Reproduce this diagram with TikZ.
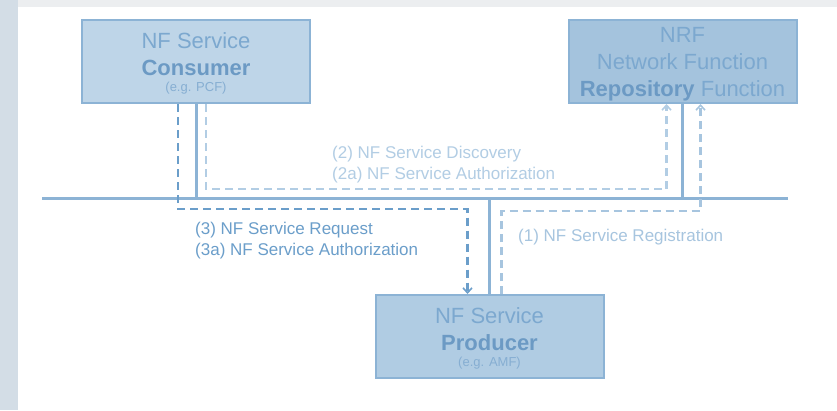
\documentclass[tikz,border=0pt]{standalone}
\usepackage{fontspec}
\setmainfont{Liberation Sans}
\usetikzlibrary{arrows.meta}
\definecolor{boxline}{HTML}{8CB3D5}
\definecolor{consfill}{HTML}{BED5E8}
\definecolor{nrffill}{HTML}{A4C3DD}
\definecolor{prodfill}{HTML}{B0CCE3}
\definecolor{boxtext}{HTML}{7CA8CF}
\definecolor{boldtext}{HTML}{6C9AC4}
\definecolor{smalltext}{HTML}{86AED2}
\definecolor{reqcol}{HTML}{6B9ECA}
\definecolor{disccol}{HTML}{B2CDE4}
\definecolor{regcol}{HTML}{A7C5DF}
\definecolor{leftbg}{HTML}{D3DDE6}
\definecolor{topbg}{HTML}{ECEEF0}
\tikzset{
  nfbox/.style={draw=boxline, line width=2pt, minimum width=228pt, minimum height=83pt,
    align=center, text=boxtext, font=\fontsize{22}{27}\selectfont, inner sep=0pt},
  bus/.style={draw=boxline, line width=3pt},
  flow/.style={line width=2.5pt, dash pattern=on 8pt off 5pt,
    -{Straight Barb[length=5pt,width=9pt,line width=1.6pt]}},
  flowtext/.style={anchor=west, align=left, font=\fontsize{17}{21}\selectfont, inner sep=0pt},
}
\newcommand{\topgap}{\rule{0pt}{20pt}}
\newcommand{\egtext}[1]{\\[-11pt]{\fontsize{13}{16}\selectfont\color{smalltext}#1}}
\begin{document}
\begin{tikzpicture}[x=1pt,y=-1pt]  % ------ NF services and the NRF ------
    \useasboundingbox (0,0) rectangle (837,410);
    \fill[topbg] (0,0) rectangle (837,410);
    \fill[leftbg] (0,0) rectangle (18,410);
    \fill[white] (18,7) rectangle (837,410);

    \node[nfbox, fill=consfill] (cons) at (196,61.5)
      {\topgap NF Service\\{\bfseries\color{boldtext}Consumer}\egtext{(e.g. PCF)}};
    \node[nfbox, fill=nrffill] (nrf) at (682.5,61.5)
      {\topgap NRF\\Network Function\\{\bfseries\color{boldtext}Repository} Function};
    \node[nfbox, fill=prodfill] (prod) at (489.5,336.5)
      {\topgap NF Service\\{\bfseries\color{boldtext}Producer}\egtext{(e.g. AMF)}};

    \coordinate (busL) at (42,198);
    \coordinate (busR) at (788,198);

    \draw[bus] (busL) -- (busR);
    \draw[bus] (cons.south) -- (cons.south |- busL);
    \draw[bus] (nrf.south) -- (nrf.south |- busL);
    \draw[bus] (prod.north) -- (prod.north |- busL);

%   (1) registration, (2) discovery, (3) request
    \draw[flow, regcol] ([xshift=12pt]prod.north) -- ++(0,-83) -| ([xshift=18pt]nrf.south);
    \draw[flow, disccol] ([xshift=10pt]cons.south) -- ++(0,85) -| ([xshift=-16pt]nrf.south);
    \draw[flow, reqcol] ([xshift=-18pt]cons.south) -- ++(0,105) -| ([xshift=-22pt]prod.north);

    \node[flowtext, text=disccol] (disc) at (332,165)
      {(2) NF Service Discovery\\(2a) NF Service Authorization};
    \node[flowtext, text=reqcol] (req) at (195,241)
      {(3) NF Service Request\\(3a) NF Service Authorization};
    \node[flowtext, text=regcol] (reg) at (518,237) {(1) NF Service Registration};

\end{tikzpicture}
\end{document}
